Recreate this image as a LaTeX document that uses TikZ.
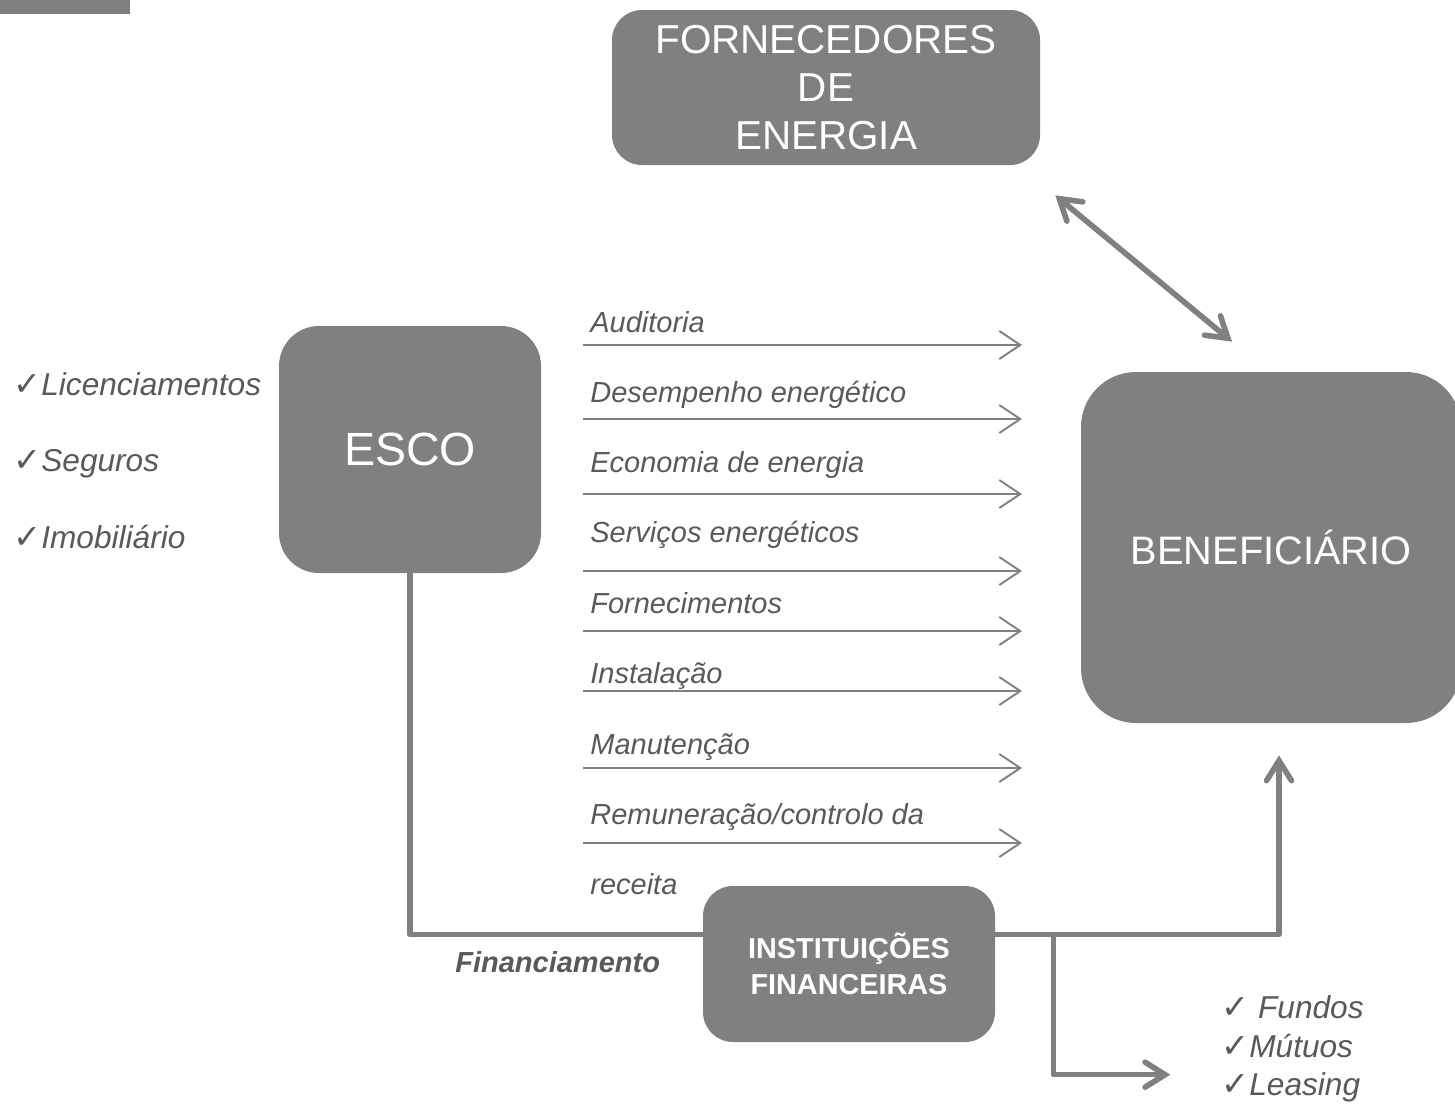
\documentclass[tikz,border=0pt]{standalone}
\usepackage{fontspec}
\setmainfont{Liberation Sans}
\newfontfamily\checkfont{DejaVu Sans}
\usetikzlibrary{calc}
\usetikzlibrary{positioning}
\usetikzlibrary{arrows.meta}
\definecolor{boxgray}{RGB}{128,128,128}
\definecolor{labelgray}{RGB}{89,89,89}
\tikzstyle{boxnode} = [fill=boxgray, text=white, align=center, inner sep=0pt]
\tikzstyle{flowline} = [draw=boxgray, line width=3.2pt, line cap=round, line join=round]
\tikzstyle{flowarrow} = [flowline, -{Straight Barb[length=0.4cm, width=0.5cm, line cap=round]}]
\tikzstyle{twoway} = [flowline, {Straight Barb[length=0.4cm, width=0.5cm, line cap=round]}-{Straight Barb[length=0.4cm, width=0.5cm, line cap=round]}]
\tikzstyle{itemarrow} = [draw=boxgray, line width=1.1pt, -{Straight Barb[length=0.42cm, width=0.56cm]}]
\tikzstyle{itemlabel} = [anchor=base west, inner sep=0pt, text=labelgray, font=\fontsize{16.5}{20}\selectfont\itshape]
\tikzstyle{ticklabel} = [anchor=base west, inner sep=0pt, text=labelgray, font=\fontsize{18}{22}\selectfont\itshape]
\newcommand{\tick}{{\checkfont\upshape\fontsize{19}{22}\selectfont ✓}}

\begin{document}
\begin{tikzpicture}
    \useasboundingbox (0,0) rectangle (29.1,-22.1);
    \fill[boxgray] (0,0) rectangle (2.6,-0.28);

    % main boxes
    \node[boxnode, minimum width=8.56cm, minimum height=3.1cm, rounded corners=0.6cm, font=\fontsize{23}{27.4}\selectfont] (fornec) at (16.52,-1.75) {FORNECEDORES\\DE\\ENERGIA};
    \node[boxnode, minimum width=5.24cm, minimum height=4.94cm, rounded corners=0.8cm, font=\fontsize{26.5}{30}\selectfont] (esco) at ($(fornec)+(-8.32,-7.24)$) {ESCO};
    \node[boxnode, minimum width=7.6cm, minimum height=7.02cm, rounded corners=1.1cm, font=\fontsize{22.6}{26}\selectfont] (benef) at ($(esco)+(17.22,-1.96)$) {BENEFICIÁRIO};
    \node[boxnode, minimum width=5.84cm, minimum height=3.12cm, rounded corners=0.6cm, font=\fontsize{16.4}{20.5}\selectfont\bfseries] (inst) at ($(fornec)+(0.46,-17.53)$) {INSTITUIÇÕES\\FINANCEIRAS};

    % fornecedores <-> beneficiario
    \coordinate (fe_a) at ($(fornec.south east)+(0.3,-0.6)$);
    \coordinate (fe_b) at ($(benef.north)+(-0.78,0.6)$);
    \draw[twoway] (fe_a) -- (fe_b);

    % services esco -> beneficiario
    \node[itemlabel] (aud) at (11.8,-6.64) {Auditoria};
    \coordinate (aud_l) at (11.66,-6.9);
    \coordinate (aud_r) at (20.44,-6.9);
    \draw[itemarrow] (aud_l) -- (aud_r);

    \node[itemlabel] (desemp) at (11.8,-8.04) {Desempenho energético};
    \coordinate (desemp_l) at (11.66,-8.38);
    \coordinate (desemp_r) at (20.44,-8.38);
    \draw[itemarrow] (desemp_l) -- (desemp_r);

    \node[itemlabel] (econ) at (11.8,-9.44) {Economia de energia};
    \coordinate (econ_l) at (11.66,-9.88);
    \coordinate (econ_r) at (20.44,-9.88);
    \draw[itemarrow] (econ_l) -- (econ_r);

    \node[itemlabel] (serv) at (11.8,-10.84) {Serviços energéticos};
    \coordinate (serv_l) at (11.66,-11.42);
    \coordinate (serv_r) at (20.44,-11.42);
    \draw[itemarrow] (serv_l) -- (serv_r);

    \node[itemlabel] (forn) at (11.8,-12.26) {Fornecimentos};
    \coordinate (forn_l) at (11.66,-12.62);
    \coordinate (forn_r) at (20.44,-12.62);
    \draw[itemarrow] (forn_l) -- (forn_r);

    \node[itemlabel] (inst_lbl) at (11.8,-13.66) {Instalação};
    \coordinate (inst_l) at (11.66,-13.82);
    \coordinate (inst_r) at (20.44,-13.82);
    \draw[itemarrow] (inst_l) -- (inst_r);

    \node[itemlabel] (manut) at (11.8,-15.08) {Manutenção};
    \coordinate (manut_l) at (11.66,-15.36);
    \coordinate (manut_r) at (20.44,-15.36);
    \draw[itemarrow] (manut_l) -- (manut_r);

    \node[itemlabel] (remun) at (11.8,-16.48) {Remuneração/controlo da};
    \node[itemlabel] (receita) at (11.8,-17.88) {receita};
    \coordinate (remun_l) at (11.66,-16.86);
    \coordinate (remun_r) at (20.44,-16.86);
    \draw[itemarrow] (remun_l) -- (remun_r);

    % financing
    \coordinate (fin_left) at ($(inst.north west)+(0,-0.98)$);
    \coordinate (fin_right) at ($(inst.north east)+(0,-0.98)$);
    \coordinate (benef_in) at ($(benef.south)+(0.16,-0.64)$);
    \coordinate (branch) at ($(fin_right)+(1.16,0)$);
    \coordinate (fundos_in) at ($(branch)+(2.34,-2.8)$);
    \draw[flowline] (esco.south) |- (fin_left);
    \draw[flowarrow] (fin_right) -| (benef_in);
    \draw[flowarrow] (branch) |- (fundos_in);
    \node[anchor=base west, inner sep=0pt, text=labelgray, font=\fontsize{16.5}{20}\selectfont\bfseries\itshape] (financ) at (9.1,-19.44) {Financiamento};

    % side lists
    \node[ticklabel] (lic) at (0.26,-7.9) {\tick Licenciamentos};
    \node[ticklabel] (seg) at (0.26,-9.42) {\tick Seguros};
    \node[ticklabel] (imob) at (0.26,-10.96) {\tick Imobiliário};

    \node[ticklabel] (fundos) at (24.42,-20.36) {\tick\ Fundos};
    \node[ticklabel] (mutuos) at (24.42,-21.14) {\tick Mútuos};
    \node[ticklabel] (leasing) at (24.42,-21.9) {\tick Leasing};
\end{tikzpicture}
\end{document}
